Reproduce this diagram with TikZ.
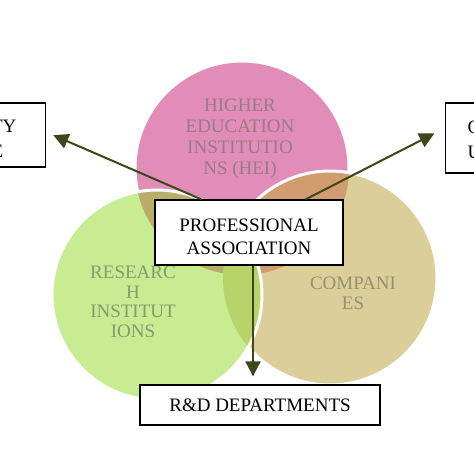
\documentclass[tikz,border=0pt]{standalone}
\usepackage{fontspec}
\setmainfont{Liberation Serif}
\usetikzlibrary{arrows.meta}

\definecolor{heipink}{RGB}{226,141,184}
\definecolor{resgreen}{RGB}{200,236,146}
\definecolor{comptan}{RGB}{220,206,152}
\definecolor{pinktan}{RGB}{208,156,112}
\definecolor{pinkgreen}{RGB}{184,174,106}
\definecolor{greentan}{RGB}{182,212,106}
\definecolor{arrowolive}{RGB}{58,72,28}
\definecolor{heitext}{RGB}{152,122,138}
\definecolor{restext}{RGB}{125,160,110}
\definecolor{comptext}{RGB}{150,145,115}

\begin{document}
\begin{tikzpicture}[x=1pt,y=-1pt,>={Triangle[length=15pt,width=15pt]},
  ring/.style={draw=white,line width=3pt},
  venn label/.style={align=center,font=\fontsize{19}{21}\selectfont},
  main box/.style={draw,line width=1.3pt,fill=white,align=center,
    font=\fontsize{19}{25}\selectfont},
  link/.style={->,draw=arrowolive,fill=arrowolive,line width=2pt}]

  \fill[white] (0,0) rectangle (474,474);
  \useasboundingbox (0,0) rectangle (474,474);

  % circles
  \fill[heipink] (242,168) circle[radius=107];
  \draw[ring] (242,168) circle[radius=107];
  \fill[comptan] (330,278) circle[radius=107];
  \begin{scope}
    \clip (330,278) circle[radius=107];
    \fill[pinktan] (242,168) circle[radius=107];
  \end{scope}
  \draw[ring] (330,278) circle[radius=107];
  \fill[resgreen] (157,295) circle[radius=105];
  \begin{scope}
    \clip (157,295) circle[radius=105];
    \fill[pinkgreen] (242,168) circle[radius=107];
    \fill[greentan] (330,278) circle[radius=107];
  \end{scope}
  \draw[ring] (157,295) circle[radius=105];

  \node[venn label,text=heitext] (hei) at (240,139)
    {HIGHER\\EDUCATION\\INSTITUTIO\\NS (HEI)};
  \node[venn label,text=restext,font=\fontsize{19}{19.5}\selectfont]
    (research) at (133,302) {RESEARC\\H\\INSTITUT\\IONS};
  \node[venn label,text=comptext,font=\fontsize{19}{20}\selectfont]
    (companies) at (353,293) {COMPANI\\ES};

  % boxes
  \node[main box,minimum width=188pt,minimum height=65pt,
    font=\fontsize{19}{23}\selectfont] (pa) at (249,232.5)
    {\rule{0pt}{22pt}PROFESSIONAL\\ASSOCIATION};
  \node[main box,minimum width=240pt,minimum height=40pt] (rd) at (260,405)
    {R\&D DEPARTMENTS};
  \node[main box,anchor=east,text width=60pt,align=right,inner xsep=29pt,
    minimum height=64pt] (lbox) at (46,135)
    {\rule{0pt}{19pt}TY\\E\rule{13pt}{0pt}};
  \node[main box,anchor=west,text width=40pt,align=left,inner xsep=22pt,
    minimum height=70pt] (rbox) at (445,138)
    {\rule{0pt}{16pt}C\\U};

  % arrows
  \draw[link,shorten >=8pt] ([xshift=47pt]pa.north west) -- ([yshift=3pt]lbox.east);
  \draw[link,shorten >=12pt] ([xshift=-38pt]pa.north east) -- ([yshift=10pt]rbox.west);
  \draw[link,shorten >=8pt] ([xshift=4pt]pa.south) -- ([xshift=-7pt]rd.north);
\end{tikzpicture}
\end{document}
